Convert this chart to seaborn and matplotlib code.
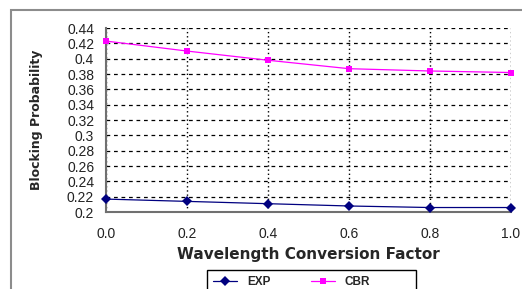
import numpy as np
import pandas as pd
import seaborn as sns
import matplotlib.pyplot as plt
from matplotlib.patches import Rectangle

# --------------------------------------------------
# DATA
# --------------------------------------------------
factor = [0.0, 0.2, 0.4, 0.6, 0.8, 1.0]
exp_block = [0.217, 0.214, 0.211, 0.208, 0.206, 0.206]
cbr_block = [0.423, 0.410, 0.398, 0.387, 0.384, 0.382]
y_ticks = [0.2, 0.22, 0.24, 0.26, 0.28, 0.3, 0.32, 0.34, 0.36, 0.38, 0.4, 0.42, 0.44]
y_labels = ["0.2", "0.22", "0.24", "0.26", "0.28", "0.3", "0.32", "0.34",
            "0.36", "0.38", "0.4", "0.42", "0.44"]
x_ticks = [0.0, 0.2, 0.4, 0.6, 0.8, 1.0]
x_labels = ["0.0", "0.2", "0.4", "0.6", "0.8", "1.0"]

df = pd.DataFrame({
    "factor": factor * 2,
    "prob": exp_block + cbr_block,
    "series": ["EXP"] * len(factor) + ["CBR"] * len(factor),
})

# --------------------------------------------------
# PLOT
# --------------------------------------------------
sns.set_style("white")
plt.rcParams["font.family"] = ["Liberation Sans", "DejaVu Sans"]

fig = plt.figure(figsize=(5.22, 2.89), dpi=100)
ax = fig.add_axes([0.203, 0.266, 0.776, 0.637])

# outer chart frame (cut off at right / bottom like the reference)
fig.add_artist(Rectangle((11 / 522, -0.1), 1.0, 1 - 10 / 289 + 0.1,
                         transform=fig.transFigure, fill=False,
                         edgecolor="#8c8c8c", linewidth=1.5))

sns.lineplot(data=df, x="factor", y="prob", hue="series", style="series",
             palette={"EXP": "#000080", "CBR": "#ff00ff"},
             markers={"EXP": "D", "CBR": "s"}, dashes=False,
             markersize=5, markeredgewidth=0, linewidth=0.9, ax=ax,
             zorder=3, clip_on=False)

ax.set_xlim(0, 1.0)
ax.set_ylim(0.2, 0.44)
ax.set_yticks(y_ticks)
ax.set_yticklabels(y_labels)
ax.set_xticks(x_ticks)
ax.set_xticklabels(x_labels)

ax.yaxis.grid(True, color="black", linestyle=(0, (3, 3)), linewidth=0.9)
ax.xaxis.grid(True, color="black", linestyle=(0, (1, 2)), linewidth=1.0)

for s in ["top", "right"]:
    ax.spines[s].set_visible(False)
for s in ["left", "bottom"]:
    ax.spines[s].set_color("#707070")
    ax.spines[s].set_linewidth(1.5)

ax.tick_params(axis="both", which="major", direction="out", length=5,
               width=1.2, color="#505050", labelsize=10, labelcolor="#222222")
ax.tick_params(axis="x", pad=6)

ax.set_xlabel("Wavelength Conversion Factor", fontsize=11, fontweight="bold",
              family=["DejaVu Sans"], labelpad=4)
ax.set_ylabel("Blocking Probability", fontsize=9, fontweight="bold",
              family=["DejaVu Sans"], labelpad=17)

# legend: entries laid out like the reference, box drawn separately
# (x 207..416 px, top at 270 px, runs off the bottom edge)
handles, labels = ax.get_legend_handles_labels()
ax.legend(handles, labels, loc="upper left",
          bbox_to_anchor=(207 / 522, 1 - 270 / 289),
          bbox_transform=fig.transFigure,
          ncol=2, frameon=False,
          prop={"weight": "bold", "size": 8.5},
          handlelength=2.05, handletextpad=0.85, columnspacing=3.4,
          borderpad=0.5, borderaxespad=0)
fig.add_artist(Rectangle((207 / 522, -0.05), 209 / 522, 0.05 + 1 - 270 / 289,
                         transform=fig.transFigure, fill=False,
                         edgecolor="black", linewidth=1.0))

plt.savefig("out.png", dpi=100)
